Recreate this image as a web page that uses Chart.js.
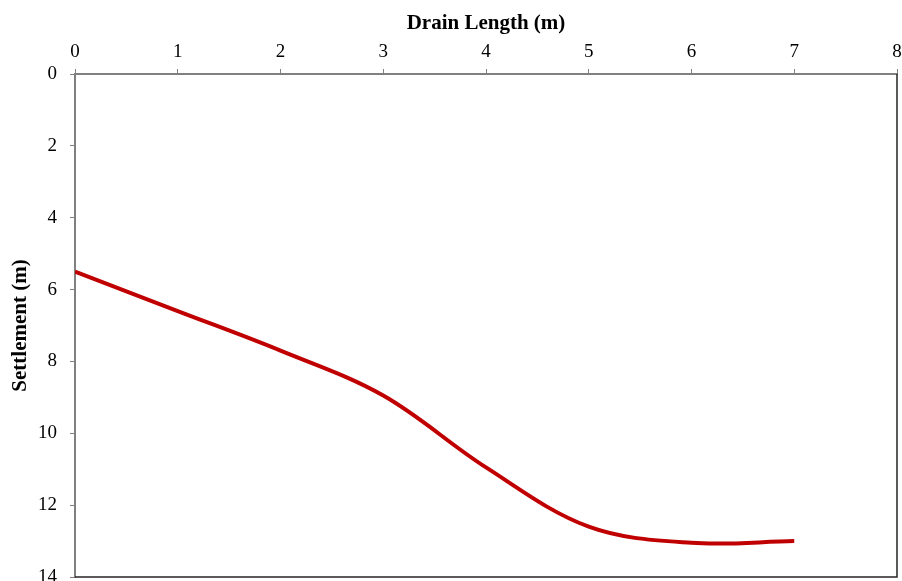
<!DOCTYPE html>
<html>
<head>
<meta charset="utf-8">
<script src="https://cdn.jsdelivr.net/npm/chart.js@4"></script>
<style>
  html, body { margin: 0; padding: 0; background: #fff; }
  #wrap { width: 902px; height: 581px; }
</style>
</head>
<body>
<div id="wrap"><canvas id="ichart"></canvas></div>
<script>
// Data
const drainLength = [0, 1, 2, 3, 4, 5, 6, 7]; //<--- x, m
const settlement = [5.5, 6.6, 7.7, 8.95, 10.95, 12.6, 13.05, 13.0]; //<--- y, m
const xTicks = [0, 1, 2, 3, 4, 5, 6, 7, 8];
const yTicks = [0, 2, 4, 6, 8, 10, 12, 14];

const FONT = "'Liberation Serif', 'Times New Roman', serif";

//Right and bottom frame of the plot area
const frame = {
    id : "frame",
    afterDraw(chart) {
        const a = chart.chartArea;
        const ctx = chart.ctx;
        ctx.save();
        ctx.strokeStyle = "#262626";
        ctx.lineWidth = 1.5;
        ctx.beginPath();
        ctx.moveTo(a.left, a.bottom);
        ctx.lineTo(a.right, a.bottom);
        ctx.lineTo(a.right, a.top);
        ctx.stroke();
        ctx.restore();
    }
};

new Chart("ichart", {
    type : "line",
    data : {
        datasets : [{
            data : drainLength.map((x, i) => ({ x : x, y : settlement[i] })),
            borderColor : "#C00000",
            borderWidth : 4,
            pointRadius : 0,
            tension : 0.35,
            fill : false
        }]
    },
    options : {
        responsive : true,
        maintainAspectRatio : false,
        animation : false,
        layout : { padding : { left : 0, top : 0, right : 5, bottom : 4 } },
        plugins : { legend : { display : false }, tooltip : { enabled : false } },
        scales : {
            x : {
                type : "linear",
                position : "top",
                min : 0, max : 8,
                afterBuildTicks : s => { s.ticks = xTicks.map(v => ({ value : v })); },
                afterFit : s => { s.height = 74; s.paddingLeft = 0; s.paddingRight = 0; },
                border : { color : "#808080", width : 2 },
                grid : { drawOnChartArea : false, drawTicks : true, tickLength : 5, color : "#808080", lineWidth : 1 },
                ticks : { color : "#000", padding : 6, font : { family : FONT, size : 19 } },
                title : { display : true, text : "Drain Length (m)", color : "#000", padding : { top : 11, bottom : 0 },
                          font : { family : FONT, size : 21, weight : "bold" } }
            },
            y : {
                type : "linear",
                reverse : true,
                min : 0, max : 14,
                afterBuildTicks : s => { s.ticks = yTicks.map(v => ({ value : v })); },
                afterFit : s => { s.width = 75; s.paddingTop = 0; s.paddingBottom = 0; },
                border : { color : "#808080", width : 2 },
                grid : { drawOnChartArea : false, drawTicks : true, tickLength : 5, color : "#808080", lineWidth : 1 },
                ticks : { color : "#000", padding : 13, font : { family : FONT, size : 19 } },
                title : { display : true, text : "Settlement (m)", color : "#000", padding : { top : 8, bottom : 0 },
                          font : { family : FONT, size : 21, weight : "bold" } }
            }
        }
    },
    plugins : [frame]
});
</script>
</body>
</html>
